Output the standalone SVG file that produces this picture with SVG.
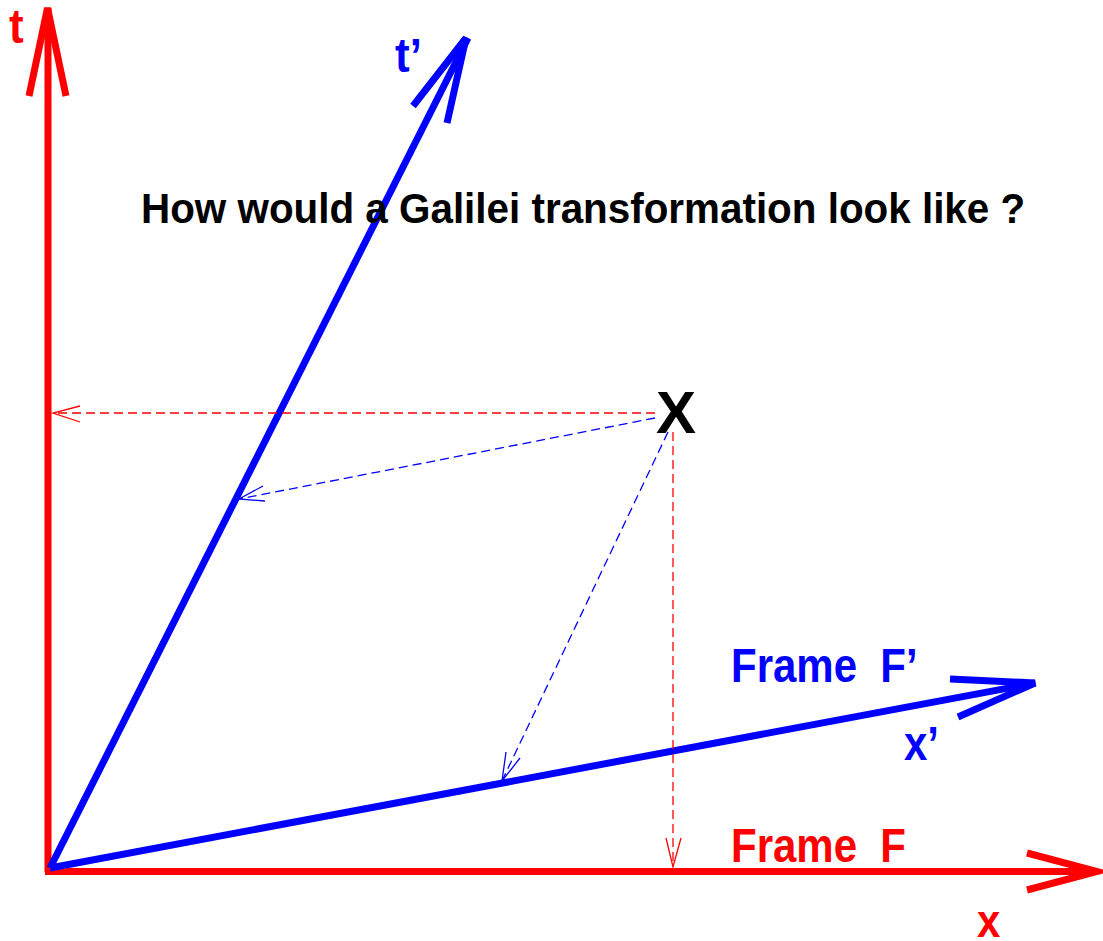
<svg xmlns="http://www.w3.org/2000/svg" width="1103" height="941" viewBox="0 0 1103 941">
<style>
.red{stroke:#ff0000;fill:none}
.blue{stroke:#0000ff;fill:none}
.axis{stroke-width:7}
.head{stroke-width:7;stroke-linejoin:miter;stroke-linecap:butt}
.dash{stroke-width:1.3;stroke-dasharray:9,5}
.tip{stroke-width:1.3;stroke-dasharray:none}
text{font-family:"Liberation Sans",Arial,Helvetica,sans-serif;font-weight:bold;white-space:pre}
.rt{fill:#ff0000}
.bt{fill:#0000ff}
</style>
<g id="connectors">
<path class="red axis" d="M48,872 V8"/>
<path class="red head" d="M29,96 L47.5,8 L66,96"/>
<path class="red axis" d="M45,871.5 H1095"/>
<path class="red head" d="M1027,853 L1097,871.5 L1027,890"/>
<path class="blue axis" d="M50,868 L468,38"/>
<path class="blue head" d="M413,106 L466,38 L447,123"/>
<path class="blue axis" d="M50,868 L1035,683"/>
<path class="blue head" d="M950,679 L1035,683 L958,717"/>
<path class="red dash" d="M655,413 H53"/>
<path class="red tip" d="M80,406 L53,413 L80,422"/>
<path class="red dash" d="M673,432 V866"/>
<path class="red tip" d="M666,838 L673,867 L681,838"/>
<path class="blue dash" d="M655,418 L239,499"/>
<path class="blue tip" d="M263,486 L239,499 L265,501"/>
<path class="blue dash" d="M668,432 L502,781"/>
<path class="blue tip" d="M506,752 L502,781 L520,758"/>
</g>
<g id="label-t"><text class="rt" transform="translate(9,43) scale(1,1.1)" font-size="44">t</text></g>
<g id="label-tprime"><text class="bt" transform="translate(395,72) scale(1,1.1)" font-size="44">t’</text></g>
<g id="title"><text transform="translate(141,223) scale(1,1.04)" font-size="40.4">How would a Galilei transformation look like ?</text></g>
<g id="point-X"><text x="656" y="433" font-size="60">X</text></g>
<g id="label-frameFprime"><text class="bt" transform="translate(731,682) scale(1,1.15)" font-size="42" xml:space="preserve">Frame  F’</text></g>
<g id="label-xprime"><text class="bt" transform="translate(904,760) scale(1,1.15)" font-size="42">x’</text></g>
<g id="label-frameF"><text class="rt" transform="translate(731,862) scale(1,1.15)" font-size="42" xml:space="preserve">Frame  F</text></g>
<g id="label-x"><text class="rt" transform="translate(977,937) scale(1,1.1)" font-size="42">x</text></g>
</svg>
